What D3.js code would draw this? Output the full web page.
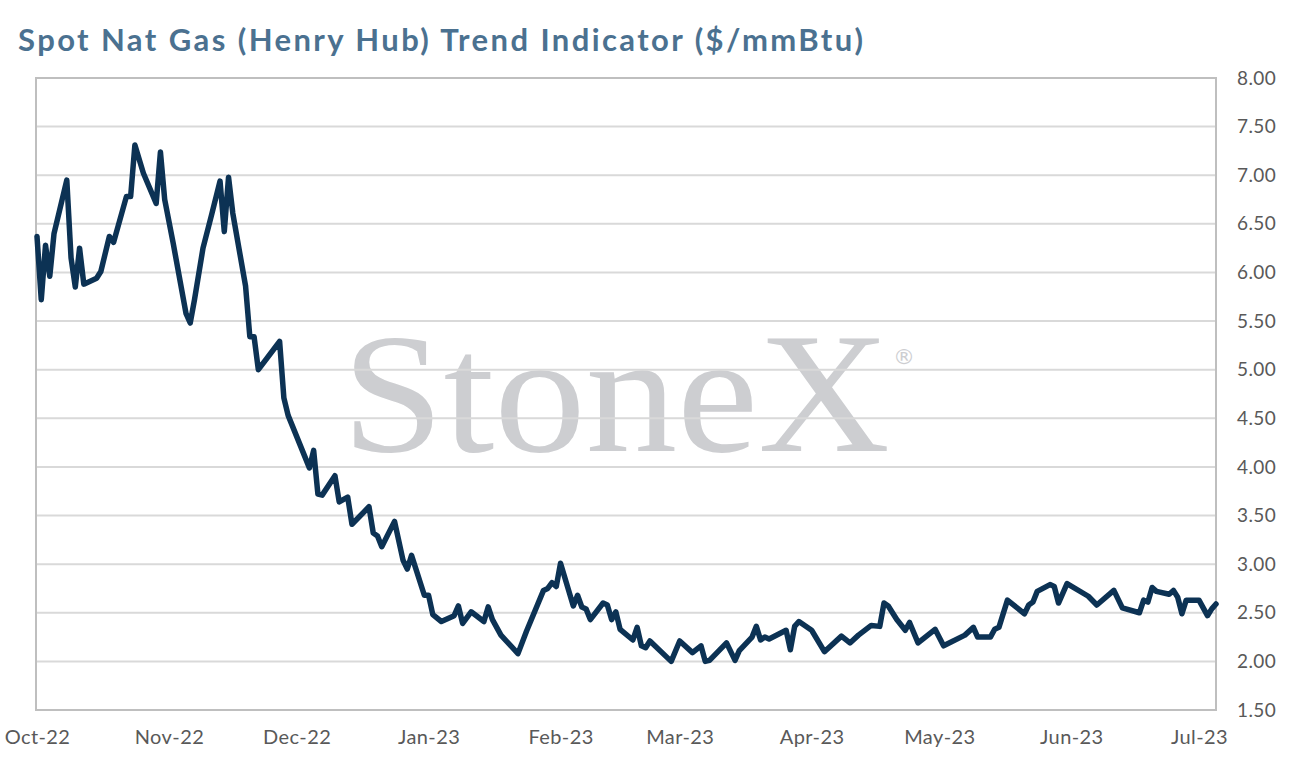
<!DOCTYPE html>
<html>
<head>
<meta charset="utf-8">
<script src="https://cdn.jsdelivr.net/npm/d3@7"></script>
<style>
  html, body { margin: 0; padding: 0; background: #ffffff; }
  svg { display: block; }
</style>
</head>
<body>
<svg id="chart"></svg>
<script>
var width = 1294;
var height = 771;

// series (date, $/mmBtu)
var dates = [
  "2022-10-01","2022-10-02","2022-10-03","2022-10-04","2022-10-05","2022-10-08","2022-10-09","2022-10-10",
  "2022-10-11","2022-10-12","2022-10-15","2022-10-16","2022-10-18","2022-10-19","2022-10-22","2022-10-23",
  "2022-10-24","2022-10-26","2022-10-29","2022-10-30","2022-10-31","2022-11-02","2022-11-05","2022-11-06",
  "2022-11-07","2022-11-09","2022-11-11","2022-11-13","2022-11-14","2022-11-15","2022-11-16","2022-11-19",
  "2022-11-20","2022-11-21","2022-11-22","2022-11-27","2022-11-28","2022-11-29","2022-12-04","2022-12-05",
  "2022-12-06","2022-12-07","2022-12-10","2022-12-11","2022-12-13","2022-12-14","2022-12-18","2022-12-19",
  "2022-12-20","2022-12-21","2022-12-24","2022-12-26","2022-12-27","2022-12-28","2022-12-31","2023-01-01",
  "2023-01-02","2023-01-04","2023-01-07","2023-01-08","2023-01-09","2023-01-11","2023-01-14","2023-01-15",
  "2023-01-16","2023-01-18","2023-01-22","2023-01-24","2023-01-28","2023-01-29","2023-01-30","2023-01-31",
  "2023-02-01","2023-02-04","2023-02-05","2023-02-06","2023-02-07","2023-02-08","2023-02-11","2023-02-12",
  "2023-02-13","2023-02-14","2023-02-15","2023-02-18","2023-02-19","2023-02-20","2023-02-21","2023-02-22",
  "2023-02-27","2023-03-01","2023-03-04","2023-03-06","2023-03-07","2023-03-08","2023-03-12","2023-03-14",
  "2023-03-15","2023-03-18","2023-03-19","2023-03-20","2023-03-21","2023-03-22","2023-03-26","2023-03-27",
  "2023-03-28","2023-03-29","2023-04-01","2023-04-04","2023-04-08","2023-04-10","2023-04-12","2023-04-15",
  "2023-04-17","2023-04-18","2023-04-19","2023-04-21","2023-04-23","2023-04-24","2023-04-26","2023-04-30",
  "2023-05-02","2023-05-07","2023-05-09","2023-05-10","2023-05-13","2023-05-14","2023-05-15","2023-05-17",
  "2023-05-21","2023-05-22","2023-05-23","2023-05-24","2023-05-27","2023-05-28","2023-05-29","2023-05-31",
  "2023-06-05","2023-06-07","2023-06-11","2023-06-13","2023-06-17","2023-06-18","2023-06-19","2023-06-20",
  "2023-06-21","2023-06-24","2023-06-25","2023-06-26","2023-06-27","2023-06-28","2023-07-01","2023-07-03",
  "2023-07-04","2023-07-05"
];
var prices = [
  6.37,5.72,6.28,5.96,6.40,6.95,6.15,5.85,
  6.25,5.88,5.94,6.01,6.37,6.31,6.78,6.78,
  7.31,7.02,6.71,7.24,6.75,6.30,5.58,5.48,
  5.72,6.25,6.59,6.94,6.42,6.98,6.61,5.86,
  5.34,5.34,5.00,5.29,4.71,4.53,3.99,4.17,
  3.72,3.71,3.91,3.64,3.69,3.41,3.59,3.32,
  3.29,3.18,3.44,3.04,2.95,3.09,2.68,2.68,
  2.48,2.41,2.47,2.57,2.39,2.51,2.41,2.56,
  2.43,2.27,2.08,2.31,2.73,2.75,2.81,2.77,
  3.01,2.57,2.68,2.56,2.54,2.43,2.60,2.58,
  2.43,2.51,2.33,2.22,2.35,2.16,2.14,2.21,
  2.00,2.21,2.09,2.16,2.00,2.01,2.19,2.01,
  2.11,2.25,2.36,2.22,2.25,2.23,2.32,2.12,
  2.36,2.41,2.32,2.10,2.26,2.19,2.27,2.37,
  2.36,2.60,2.57,2.43,2.32,2.40,2.19,2.33,
  2.16,2.27,2.35,2.25,2.25,2.33,2.35,2.63,
  2.49,2.58,2.61,2.72,2.79,2.77,2.60,2.80,
  2.67,2.58,2.73,2.55,2.50,2.63,2.61,2.76,
  2.72,2.69,2.73,2.66,2.49,2.63,2.63,2.47,
  2.54,2.59
];

var monthTicks = ["2022-10-01","2022-11-01","2022-12-01","2023-01-01","2023-02-01","2023-03-01",
                  "2023-04-01","2023-05-01","2023-06-01","2023-07-01"];
var yTicks = [1.5,2,2.5,3,3.5,4,4.5,5,5.5,6,6.5,7,7.5,8];

var titleText = "Spot Nat Gas (Henry Hub) Trend Indicator ($/mmBtu)";

var parseDate = d3.timeParse("%Y-%m-%d");
var data = dates.map(function (d, i) {
    return { date: parseDate(d), value: prices[i] };
});

var plot = { left: 36, right: 1216, top: 78, bottom: 710 };

var svg = d3.select("#chart")
    .attr("width", width)
    .attr("height", height);

var x = d3.scaleTime()
    .domain([parseDate("2022-10-01"), parseDate("2023-07-05")])
    .range([37, plot.right]);

var y = d3.scaleLinear()
    .domain([1.5, 8])
    .range([plot.bottom, plot.top]);

svg.append("text")
    .attr("x", 18)
    .attr("y", 51)
    .attr("font-family", "Lato, 'Open Sans', sans-serif")
    .attr("font-weight", 700)
    .attr("font-size", 31)
    .attr("textLength", 845)
    .attr("lengthAdjust", "spacing")
    .attr("fill", "#4b7190")
    .text(titleText);

// watermark sits under the gridlines
var wm = svg.append("g").attr("fill", "#cdced1");
wm.append("text")
    .attr("x", 342)
    .attr("y", 451)
    .attr("font-family", "'Liberation Serif', 'DejaVu Serif', serif")
    .attr("font-size", 172)
    .attr("textLength", 548)
    .attr("lengthAdjust", "spacingAndGlyphs")
    .text("StoneX");
wm.append("text")
    .attr("x", 893)
    .attr("y", 364)
    .attr("font-family", "'DejaVu Sans', sans-serif")
    .attr("font-size", 22)
    .text("\u00ae");

// horizontal gridlines
svg.append("g")
    .selectAll("line")
    .data(yTicks.slice(1, -1))
    .join("line")
    .attr("x1", plot.left)
    .attr("x2", plot.right)
    .attr("y1", function (d) { return y(d); })
    .attr("y2", function (d) { return y(d); })
    .attr("stroke", "#d9d9d9")
    .attr("stroke-width", 2);

// plot frame
svg.append("rect")
    .attr("x", plot.left)
    .attr("y", plot.top)
    .attr("width", plot.right - plot.left)
    .attr("height", plot.bottom - plot.top)
    .attr("fill", "none")
    .attr("stroke", "#bfbfbf")
    .attr("stroke-width", 2);

// right axis labels
var yAxis = d3.axisRight(y)
    .tickValues(yTicks)
    .tickFormat(d3.format(".2f"))
    .tickSize(0)
    .tickPadding(21);

svg.append("g")
    .attr("transform", "translate(" + plot.right + ",0)")
    .call(yAxis)
    .call(function (g) { g.select(".domain").remove(); })
    .selectAll("text")
    .attr("font-family", "Lato, 'Open Sans', sans-serif")
    .attr("font-size", 19)
    .attr("letter-spacing", 0.4)
    .attr("fill", "#595959");

// bottom axis labels
var xAxis = d3.axisBottom(x)
    .tickValues(monthTicks.map(parseDate))
    .tickFormat(d3.timeFormat("%b-%y"))
    .tickSize(0)
    .tickPadding(20);

svg.append("g")
    .attr("transform", "translate(0," + plot.bottom + ")")
    .call(xAxis)
    .call(function (g) { g.select(".domain").remove(); })
    .selectAll("text")
    .attr("font-family", "Lato, 'Open Sans', sans-serif")
    .attr("font-size", 20)
    .attr("letter-spacing", 0.4)
    .attr("fill", "#595959");

var line = d3.line()
    .x(function (d) { return x(d.date); })
    .y(function (d) { return y(d.value); });

svg.append("path")
    .datum(data)
    .attr("d", line)
    .attr("fill", "none")
    .attr("stroke", "#0c3254")
    .attr("stroke-width", 5.5)
    .attr("stroke-linejoin", "round")
    .attr("stroke-linecap", "round");
</script>
</body>
</html>
